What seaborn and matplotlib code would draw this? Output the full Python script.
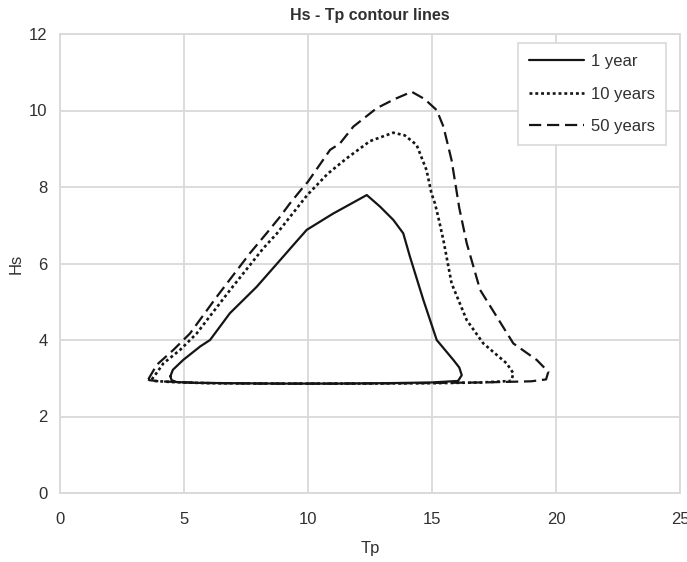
import matplotlib
matplotlib.use("Agg")
import matplotlib.pyplot as plt
import seaborn as sns

# ---- data ----
tp_1yr = [4.45, 4.55, 4.97, 5.65, 6.05, 6.85, 7.93, 9.0, 9.54, 9.95, 11.0, 11.7, 12.37,
          12.9, 13.44, 13.84, 14.11, 14.65, 15.19, 15.86, 16.1, 16.2, 16.05,
          15.0, 13.0, 11.0, 9.0, 7.0, 5.5, 4.7, 4.5, 4.45]
hs_1yr = [3.05, 3.22, 3.48, 3.83, 4.0, 4.70, 5.39, 6.18, 6.58, 6.88, 7.3, 7.55, 7.79,
          7.49, 7.14, 6.79, 6.18, 5.05, 4.0, 3.48, 3.28, 3.08, 2.93,
          2.89, 2.87, 2.86, 2.86, 2.87, 2.88, 2.9, 2.95, 3.05]

tp_10yr = [3.7, 3.83, 4.17, 4.84, 5.51, 6.85, 8.2, 8.74, 9.97, 10.8, 11.56, 12.5, 13.44,
           13.9, 14.38, 14.78, 14.98, 15.12, 15.25, 15.46, 15.79, 16.4, 17.07, 18.01,
           18.28, 18.2, 17.0, 15.0, 12.0, 9.0, 6.0, 4.5, 3.8, 3.7]
hs_10yr = [2.97, 3.08, 3.39, 3.74, 4.17, 5.3, 6.4, 6.78, 7.79, 8.35, 8.75, 9.2, 9.42,
           9.35, 9.1, 8.44, 7.83, 7.57, 7.22, 6.61, 5.48, 4.52, 3.91, 3.39,
           3.13, 2.93, 2.89, 2.87, 2.86, 2.86, 2.87, 2.9, 2.93, 2.97]

tp_50yr = [3.56, 3.9, 4.57, 5.24, 6.32, 7.66, 8.33, 8.87, 9.27, 9.81, 10.0, 10.89, 11.29,
           11.83, 12.77, 13.5, 14.18, 14.7, 15.19, 15.46, 15.79, 16.1, 16.4, 16.94,
           17.61, 18.28, 19.22, 19.69, 19.6, 19.0, 17.0, 14.0, 11.0, 8.0, 5.5, 4.0, 3.6, 3.56]
hs_50yr = [2.97, 3.35, 3.74, 4.17, 5.13, 6.27, 6.79, 7.22, 7.57, 8.0, 8.14, 8.97, 9.14,
           9.58, 10.06, 10.3, 10.49, 10.3, 10.01, 9.58, 8.7, 7.45, 6.53, 5.31,
           4.61, 3.91, 3.48, 3.17, 2.97, 2.92, 2.89, 2.87, 2.86, 2.86, 2.88, 2.92, 2.95, 2.97]

series_labels = ["1 year", "10 years", "50 years"]
x_ticks = [0, 5, 10, 15, 20, 25]
y_ticks = [0, 2, 4, 6, 8, 10, 12]

# ---- style ----
sns.set_theme(style="whitegrid")
plt.rcParams["font.family"] = ["Liberation Sans", "DejaVu Sans"]
text_color = "#303030"
grid_color = "#d9d9d9"

fig = plt.figure(figsize=(6.87, 5.62), dpi=100)
ax = fig.add_axes([60 / 687, 69 / 562, 620 / 687, 459 / 562])

line_color = "#151515"
sns.lineplot(x=tp_1yr, y=hs_1yr, sort=False, estimator=None, ax=ax,
             color=line_color, linewidth=1.6, linestyle="-", label=series_labels[0])
sns.lineplot(x=tp_10yr, y=hs_10yr, sort=False, estimator=None, ax=ax,
             color=line_color, linewidth=1.9, linestyle=(0, (1.1, 1.1)),
             label=series_labels[1])
sns.lineplot(x=tp_50yr, y=hs_50yr, sort=False, estimator=None, ax=ax,
             color=line_color, linewidth=1.6, linestyle=(0, (5.5, 2.6)),
             label=series_labels[2])

ax.set_xlim(0, 25)
ax.set_ylim(0, 12)
ax.set_xticks(x_ticks)
ax.set_yticks(y_ticks)
ax.grid(True, color=grid_color, linewidth=1.3)
for s in ax.spines.values():
    s.set_color(grid_color)
    s.set_linewidth(1.3)
ax.tick_params(axis="both", length=0, labelsize=12, labelcolor=text_color)
ax.tick_params(axis="x", pad=14)
ax.tick_params(axis="y", pad=9)

ax.set_xlabel("Tp", fontsize=12, color=text_color, labelpad=10)
ax.set_ylabel("Hs", fontsize=12, color=text_color, labelpad=4)
ax.set_title("Hs - Tp contour lines", fontsize=11.5, fontweight="bold",
             color=text_color, pad=10)

leg = ax.legend(loc="upper right", bbox_to_anchor=(0.977, 0.98), borderaxespad=0,
                fontsize=12, handlelength=3.3, frameon=True, fancybox=False,
                framealpha=1, edgecolor=grid_color, labelspacing=1.05,
                borderpad=0.65, handletextpad=0.4)
leg.get_frame().set_linewidth(1.2)
for t in leg.get_texts():
    t.set_color(text_color)

fig.savefig("out.png", dpi=100)
